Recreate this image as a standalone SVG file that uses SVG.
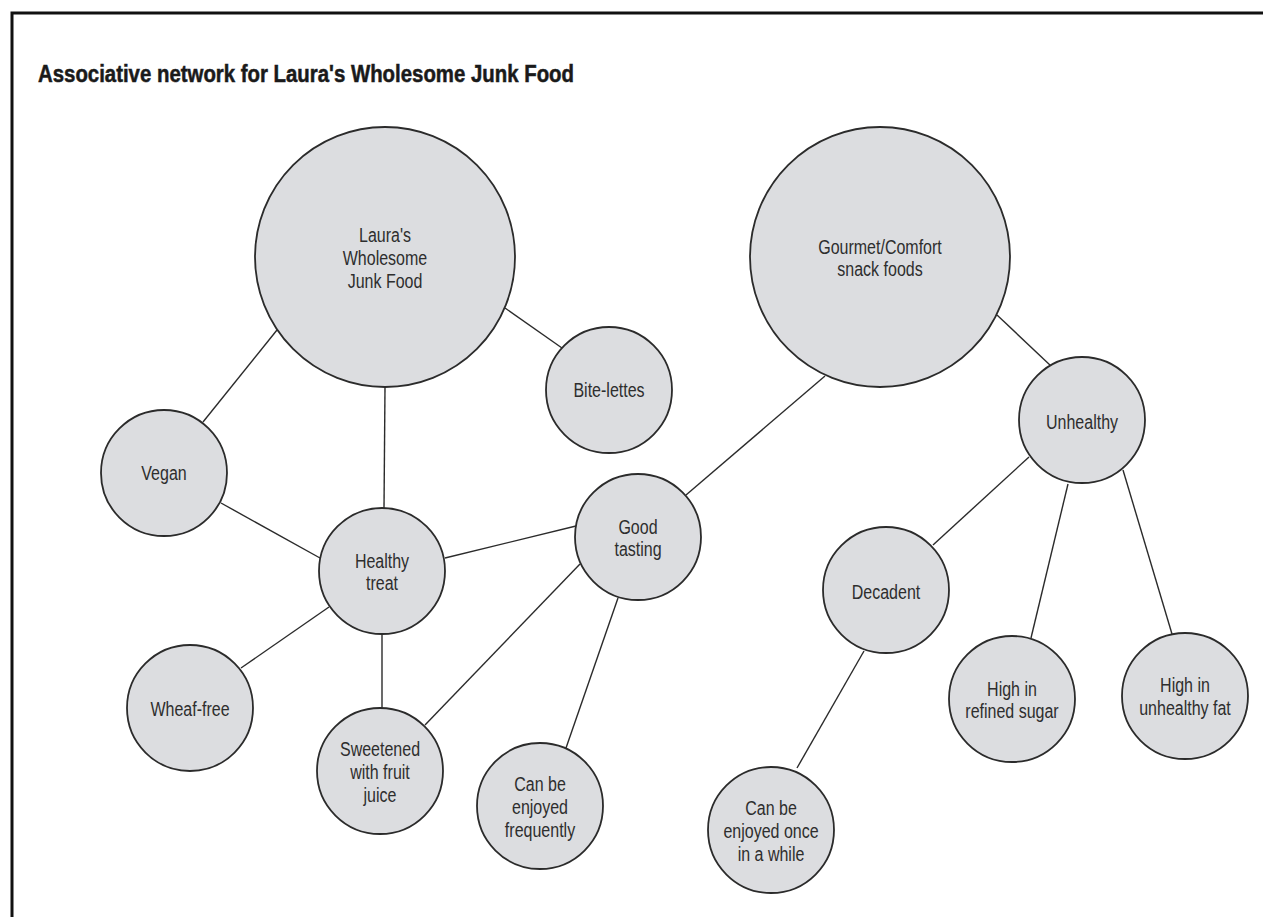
<svg xmlns="http://www.w3.org/2000/svg" width="1263" height="917" viewBox="0 0 1263 917">
<style>
.frame{fill:none;stroke:#111;stroke-width:3}
.title{font-family:"Liberation Sans",Arial,sans-serif;font-weight:bold;font-size:23px;fill:#1a1a1a;stroke:#1a1a1a;stroke-width:0.5}
.conn line{stroke:#2b2b2b;stroke-width:1.4}
.node circle{fill:#dcdde0;stroke:#2b2b2b;stroke-width:1.8}
.lbl{font-family:"Liberation Sans",Arial,sans-serif;font-size:20px;fill:#2e2e2e;text-anchor:middle}
</style>
<rect width="1263" height="917" fill="#fff"/>
<path class="frame" d="M12,917 V13 H1263"/>
<text class="title" x="38" y="82" textLength="536" lengthAdjust="spacingAndGlyphs">Associative network for Laura's Wholesome Junk Food</text>
<g id="connectors" class="conn">
<line x1="277" y1="330" x2="203" y2="422"/>
<line x1="385" y1="387" x2="384" y2="508"/>
<line x1="505" y1="308" x2="562" y2="348"/>
<line x1="221" y1="503" x2="320" y2="558"/>
<line x1="445" y1="558" x2="576" y2="526"/>
<line x1="329" y1="607" x2="241" y2="668"/>
<line x1="382" y1="634" x2="382" y2="708"/>
<line x1="580" y1="564" x2="425" y2="725"/>
<line x1="618" y1="598" x2="566" y2="748"/>
<line x1="825" y1="376" x2="686" y2="495"/>
<line x1="997" y1="315" x2="1051" y2="366"/>
<line x1="1029" y1="457" x2="933" y2="545"/>
<line x1="1068" y1="484" x2="1031" y2="638"/>
<line x1="1123" y1="470" x2="1172" y2="634"/>
<line x1="864" y1="651" x2="797" y2="768"/>
</g>
<g id="laura" class="node"><circle cx="385" cy="257" r="130"/>
<text class="lbl" transform="translate(385,0) scale(0.8,1)"><tspan x="0" y="242">Laura's</tspan><tspan x="0" y="265">Wholesome</tspan><tspan x="0" y="288">Junk Food</tspan></text></g>
<g id="gourmet" class="node"><circle cx="880" cy="257" r="130"/>
<text class="lbl" transform="translate(880,0) scale(0.8,1)"><tspan x="0" y="254">Gourmet/Comfort</tspan><tspan x="0" y="276">snack foods</tspan></text></g>
<g id="bitelettes" class="node"><circle cx="609" cy="390" r="63"/>
<text class="lbl" transform="translate(609,0) scale(0.8,1)"><tspan x="0" y="397">Bite-lettes</tspan></text></g>
<g id="vegan" class="node"><circle cx="164" cy="473" r="63"/>
<text class="lbl" transform="translate(164,0) scale(0.8,1)"><tspan x="0" y="480">Vegan</tspan></text></g>
<g id="healthy" class="node"><circle cx="382" cy="571" r="63"/>
<text class="lbl" transform="translate(382,0) scale(0.8,1)"><tspan x="0" y="568">Healthy</tspan><tspan x="0" y="590">treat</tspan></text></g>
<g id="goodtasting" class="node"><circle cx="638" cy="537" r="63"/>
<text class="lbl" transform="translate(638,0) scale(0.8,1)"><tspan x="0" y="534">Good</tspan><tspan x="0" y="556">tasting</tspan></text></g>
<g id="unhealthy" class="node"><circle cx="1082" cy="420" r="63"/>
<text class="lbl" transform="translate(1082,0) scale(0.8,1)"><tspan x="0" y="429">Unhealthy</tspan></text></g>
<g id="decadent" class="node"><circle cx="886" cy="590" r="63"/>
<text class="lbl" transform="translate(886,0) scale(0.8,1)"><tspan x="0" y="599">Decadent</tspan></text></g>
<g id="wheaffree" class="node"><circle cx="190" cy="708" r="63"/>
<text class="lbl" transform="translate(190,0) scale(0.8,1)"><tspan x="0" y="716">Wheaf-free</tspan></text></g>
<g id="sweetened" class="node"><circle cx="380" cy="771" r="63"/>
<text class="lbl" transform="translate(380,0) scale(0.8,1)"><tspan x="0" y="756">Sweetened</tspan><tspan x="0" y="779">with fruit</tspan><tspan x="0" y="802">juice</tspan></text></g>
<g id="frequently" class="node"><circle cx="540" cy="806" r="63"/>
<text class="lbl" transform="translate(540,0) scale(0.8,1)"><tspan x="0" y="791">Can be</tspan><tspan x="0" y="814">enjoyed</tspan><tspan x="0" y="837">frequently</tspan></text></g>
<g id="once" class="node"><circle cx="771" cy="830" r="63"/>
<text class="lbl" transform="translate(771,0) scale(0.8,1)"><tspan x="0" y="815">Can be</tspan><tspan x="0" y="838">enjoyed once</tspan><tspan x="0" y="861">in a while</tspan></text></g>
<g id="sugar" class="node"><circle cx="1012" cy="699" r="63"/>
<text class="lbl" transform="translate(1012,0) scale(0.8,1)"><tspan x="0" y="696">High in</tspan><tspan x="0" y="718">refined sugar</tspan></text></g>
<g id="fat" class="node"><circle cx="1185" cy="696" r="63"/>
<text class="lbl" transform="translate(1185,0) scale(0.8,1)"><tspan x="0" y="692">High in</tspan><tspan x="0" y="715">unhealthy fat</tspan></text></g>
</svg>
